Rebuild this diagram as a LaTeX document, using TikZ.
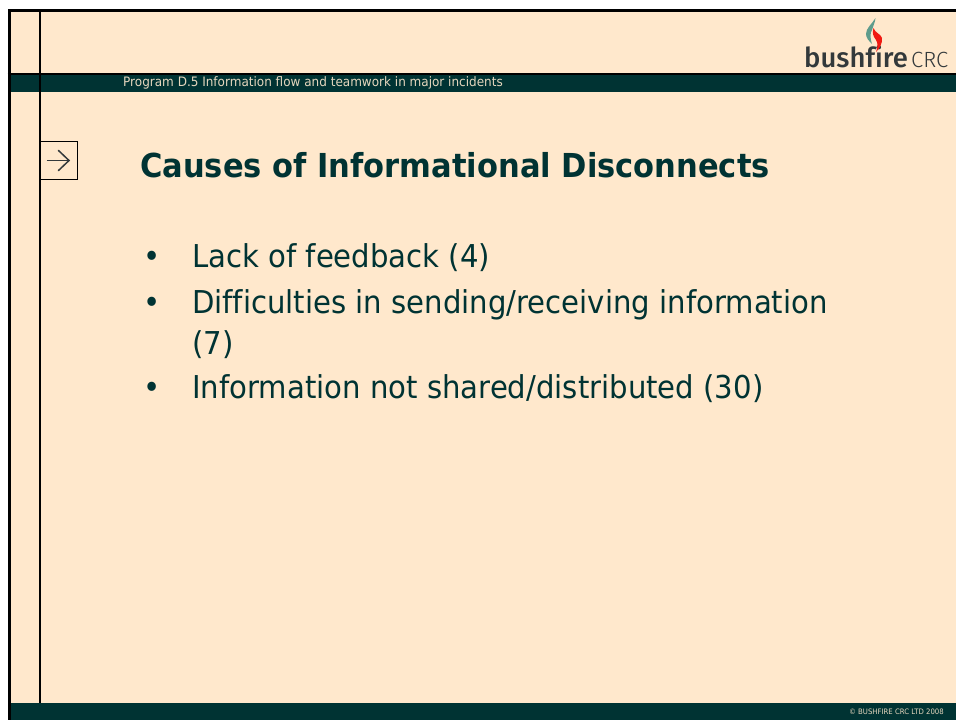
\documentclass[tikz,border=0pt]{standalone}
\usepackage{fontspec}
\setmainfont{DejaVu Sans}[FakeStretch=0.925]
\newfontfamily\logofont{Fira Sans Medium}
\newfontfamily\logolight{Fira Sans Light}
\definecolor{cream}{HTML}{FFE8CC}
\definecolor{band}{HTML}{003333}
\definecolor{logogrey}{HTML}{33393B}
\definecolor{flamegreen}{HTML}{5F9C8C}
\definecolor{flamered}{HTML}{F01A12}
\tikzset{
  x=1pt,y=-1pt,
  thickrule/.style={line width=3pt,black},
  thinrule/.style={line width=2pt,black},
  txt/.style={inner sep=0pt,anchor=base west,text=band},
  bodytext/.style={txt,font=\fontsize{31.5}{31.5}\selectfont},
  logotext/.style={inner sep=0pt,anchor=base west,text=logogrey},
  arrowline/.style={line width=1.5pt,logogrey,line cap=round},
}
\begin{document}
\begin{tikzpicture}
\useasboundingbox (0,0) rectangle (956,720);
\fill[white] (0,0) rectangle (956,720);
\fill[cream] (8,10) rectangle (956,703);
\fill[band] (10,75) rectangle (956,92);
\fill[band] (10,703) rectangle (956,720);
\coordinate (tl) at (9,10.75);
\coordinate (tr) at (956,10.75);
\coordinate (bl) at (9,720);
\coordinate (vt) at (39.9,9.5);
\coordinate (vb) at (39.9,703);
\coordinate (ml) at (7.5,74);
\coordinate (mr) at (956,74);
\draw[thickrule] (tr) -- (tl) -- (bl);
\draw[thinrule] (vt) -- (vb);
\draw[thinrule] (ml) -- (mr);
\node[inner sep=0pt,anchor=base west,text=cream!90!band,font=\fontsize{13}{13}\selectfont] (prog) at (123,86) {Program D.5 Information flow and teamwork in major incidents};
\node[draw=black,line width=1pt,inner sep=0pt,minimum width=37pt,minimum height=38.5pt] (arrowbox) at (58.5,160.5) {};
\coordinate (al) at (47.5,160.5);
\coordinate (ar) at (69,160.5);
\draw[arrowline] (al) -- (ar);
\draw[arrowline] (58.5,150.5) -- (ar) -- (58.5,170.5);
\node[txt,font=\bfseries\fontsize{33}{33}\selectfont] (title) at (140,177) {Causes of Informational Disconnects};
\node[bodytext] (b1) at (143,267) {•};
\node[bodytext] (t1) at (192,267) {Lack of feedback (4)};
\node[bodytext] (b2) at (143,313) {•};
\node[bodytext] (t2) at (192,313) {Dif\kern0pt f\kern0pt iculties in sending/receiving information};
\node[bodytext] (t2b) at (192,354) {(7)};
\node[bodytext] (b3) at (143,398) {•};
\node[bodytext] (t3) at (192,398) {Information not shared/distributed (30)};
% logo
\node[logotext,font=\logofont\fontsize{27.5}{28}\selectfont] (bush) at (804,67) {bushf\kern0pt ire};
\node[logotext,font=\logolight\fontsize{22}{22}\selectfont] (crc) at (911,67) {CRC};
\fill[flamegreen] (875.5,18) .. controls (872,24) and (866,28) .. (866,34) .. controls (866,38) and (869,41) .. (872,44) .. controls (870,38) and (870,33) .. (872,30) .. controls (873,26) and (875,23) .. (875.5,18) -- cycle;
\fill[flamered] (873.5,28) .. controls (872,33) and (873,36) .. (876,40) .. controls (878,43) and (878,47) .. (876,52) .. controls (880,48) and (882.5,43) .. (882,38) .. controls (881,34) and (875,33) .. (873.5,28) -- cycle;
\node[inner sep=0pt,anchor=base east,text=cream!90!band,font=\fontsize{7.5}{8}\selectfont] (copy) at (944,714) {© BUSHFIRE CRC LTD 2008};
\end{tikzpicture}
\end{document}
